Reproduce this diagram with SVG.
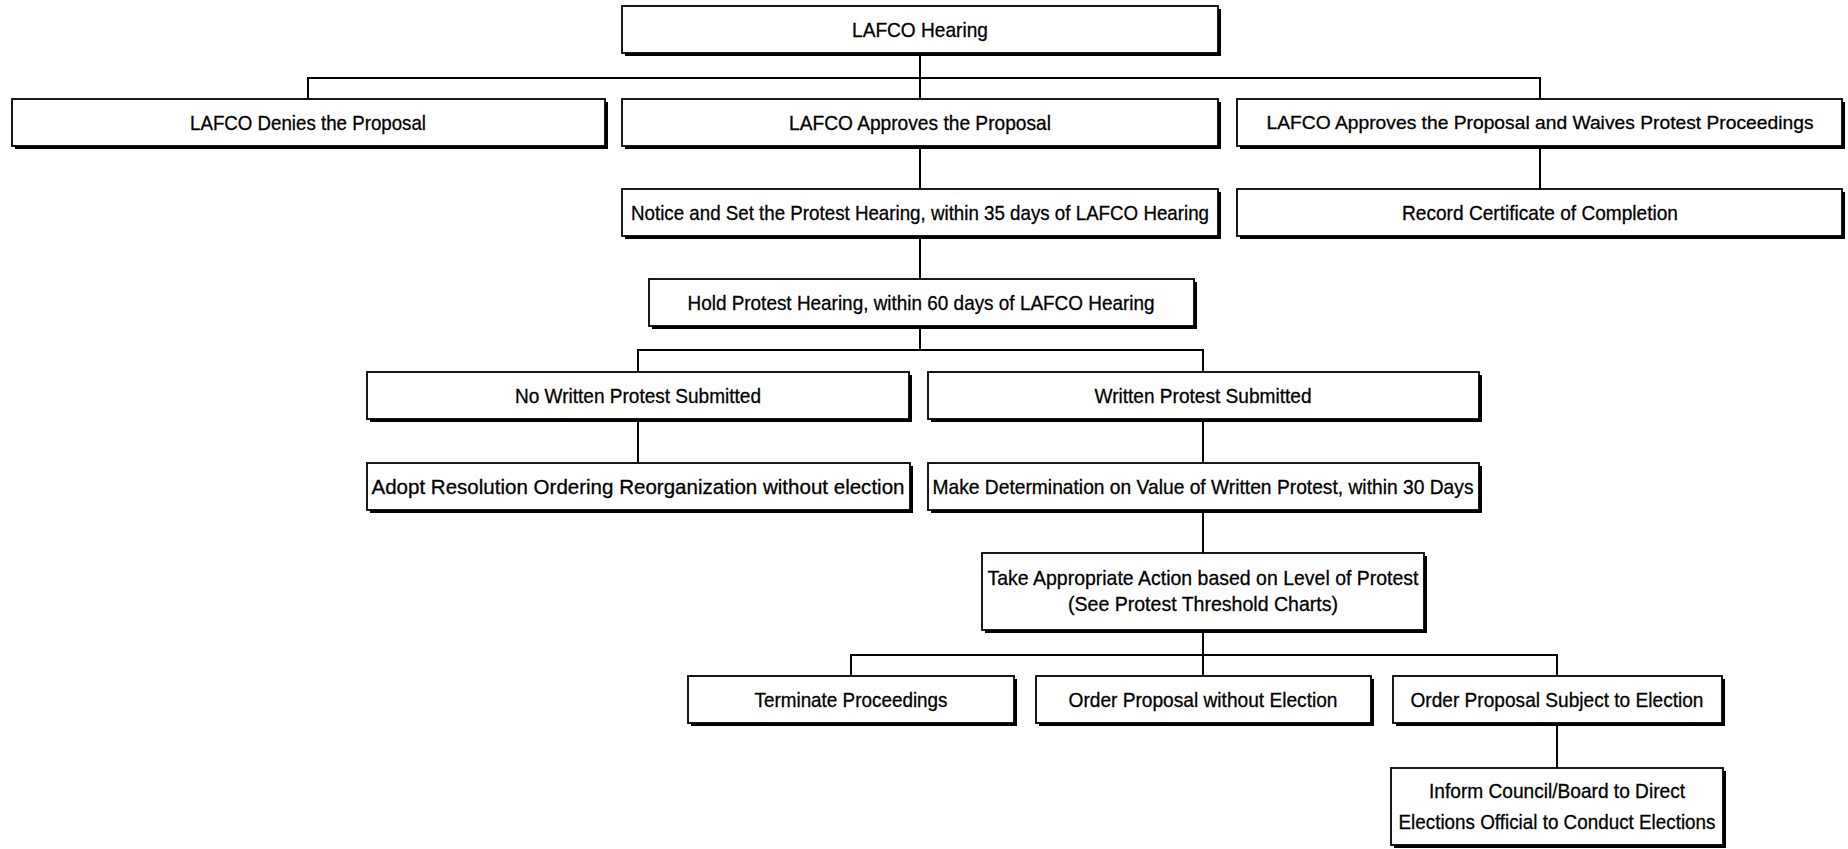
<svg xmlns="http://www.w3.org/2000/svg" width="1848" height="849" viewBox="0 0 1848 849">
<style>
.sh{fill:#000}
.bx{fill:#fff;stroke:#000;stroke-width:1.8}
.t{font-family:"Liberation Sans",Arial,sans-serif;font-size:21px;fill:#000;stroke:#000;stroke-width:0.3;text-anchor:middle}
.c{stroke:#000;stroke-width:2;fill:none}
</style>
<rect width="1848" height="849" fill="#fff"/>
<g id="connectors">
<path class="c" d="M920 53V99M308 99V78H1540V99M920 146V189M1540 146V189M920 236V279M920 326V350M638 372V350H1203V372M638 419V463M1203 419V463M1203 510V553M1203 630V676M851 676V655H1557V676M1557 723V768"/>
</g>
<g id="n-hearing"><rect class="sh" x="625" y="9" width="596" height="47"/><rect class="bx" x="622" y="6" width="596" height="47"/><text class="t" x="920" y="37" textLength="136" lengthAdjust="spacingAndGlyphs">LAFCO Hearing</text></g>
<g id="n-denies"><rect class="sh" x="15" y="102" width="593" height="47"/><rect class="bx" x="12" y="99" width="593" height="47"/><text class="t" x="308" y="130" textLength="236" lengthAdjust="spacingAndGlyphs">LAFCO Denies the Proposal</text></g>
<g id="n-approves"><rect class="sh" x="625" y="102" width="596" height="47"/><rect class="bx" x="622" y="99" width="596" height="47"/><text class="t" x="920" y="130" textLength="262" lengthAdjust="spacingAndGlyphs">LAFCO Approves the Proposal</text></g>
<g id="n-waives"><rect class="sh" x="1240" y="102" width="605" height="47"/><rect class="bx" x="1237" y="99" width="605" height="47"/><text class="t" x="1540" y="129" style="font-size:19px" textLength="547" lengthAdjust="spacingAndGlyphs">LAFCO Approves the Proposal and Waives Protest Proceedings</text></g>
<g id="n-notice"><rect class="sh" x="625" y="192" width="596" height="47"/><rect class="bx" x="622" y="189" width="596" height="47"/><text class="t" x="920" y="220" textLength="578" lengthAdjust="spacingAndGlyphs">Notice and Set the Protest Hearing, within 35 days of LAFCO Hearing</text></g>
<g id="n-record"><rect class="sh" x="1240" y="192" width="605" height="47"/><rect class="bx" x="1237" y="189" width="605" height="47"/><text class="t" x="1540" y="220" textLength="276" lengthAdjust="spacingAndGlyphs">Record Certificate of Completion</text></g>
<g id="n-hold"><rect class="sh" x="652" y="282" width="545" height="47"/><rect class="bx" x="649" y="279" width="545" height="47"/><text class="t" x="921" y="310" textLength="467" lengthAdjust="spacingAndGlyphs">Hold Protest Hearing, within 60 days of LAFCO Hearing</text></g>
<g id="n-nowritten"><rect class="sh" x="370" y="375" width="542" height="47"/><rect class="bx" x="367" y="372" width="542" height="47"/><text class="t" x="638" y="403" textLength="246" lengthAdjust="spacingAndGlyphs">No Written Protest Submitted</text></g>
<g id="n-written"><rect class="sh" x="931" y="375" width="551" height="47"/><rect class="bx" x="928" y="372" width="551" height="47"/><text class="t" x="1203" y="403" textLength="217" lengthAdjust="spacingAndGlyphs">Written Protest Submitted</text></g>
<g id="n-adopt"><rect class="sh" x="370" y="466" width="543" height="47"/><rect class="bx" x="367" y="463" width="543" height="47"/><text class="t" x="638" y="494" textLength="533" lengthAdjust="spacingAndGlyphs">Adopt Resolution Ordering Reorganization without election</text></g>
<g id="n-make"><rect class="sh" x="931" y="466" width="551" height="47"/><rect class="bx" x="928" y="463" width="551" height="47"/><text class="t" x="1203" y="494" textLength="541" lengthAdjust="spacingAndGlyphs">Make Determination on Value of Written Protest, within 30 Days</text></g>
<g id="n-take"><rect class="sh" x="985" y="556" width="442" height="77"/><rect class="bx" x="982" y="553" width="442" height="77"/><text class="t" x="1203" y="585" textLength="431" lengthAdjust="spacingAndGlyphs">Take Appropriate Action based on Level of Protest</text><text class="t" x="1203" y="611" textLength="270" lengthAdjust="spacingAndGlyphs">(See Protest Threshold Charts)</text></g>
<g id="n-terminate"><rect class="sh" x="691" y="679" width="326" height="47"/><rect class="bx" x="688" y="676" width="326" height="47"/><text class="t" x="851" y="707" textLength="193" lengthAdjust="spacingAndGlyphs">Terminate Proceedings</text></g>
<g id="n-without"><rect class="sh" x="1039" y="679" width="335" height="47"/><rect class="bx" x="1036" y="676" width="335" height="47"/><text class="t" x="1203" y="707" textLength="269" lengthAdjust="spacingAndGlyphs">Order Proposal without Election</text></g>
<g id="n-subject"><rect class="sh" x="1396" y="679" width="329" height="47"/><rect class="bx" x="1393" y="676" width="329" height="47"/><text class="t" x="1557" y="707" textLength="293" lengthAdjust="spacingAndGlyphs">Order Proposal Subject to Election</text></g>
<g id="n-inform"><rect class="sh" x="1394" y="771" width="332" height="77"/><rect class="bx" x="1391" y="768" width="332" height="77"/><text class="t" x="1557" y="798" textLength="256" lengthAdjust="spacingAndGlyphs">Inform Council/Board to Direct</text><text class="t" x="1557" y="829" textLength="317" lengthAdjust="spacingAndGlyphs">Elections Official to Conduct Elections</text></g>
</svg>
